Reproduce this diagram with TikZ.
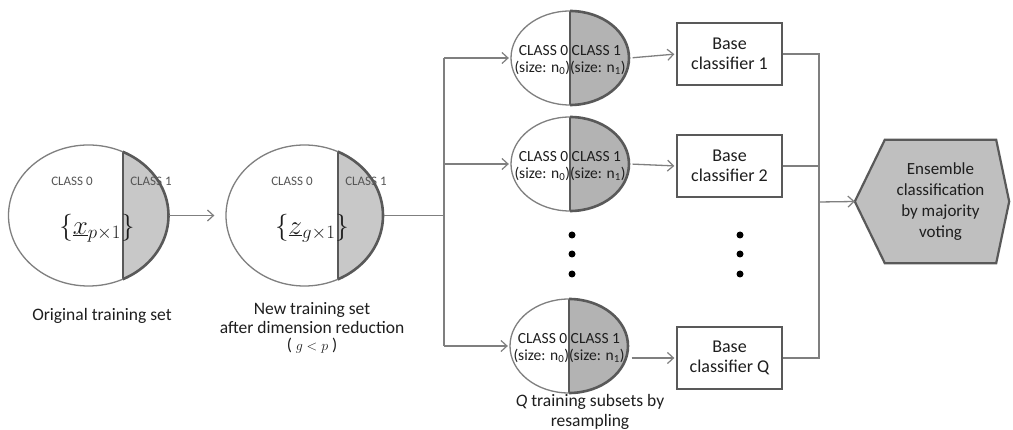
\RequirePackage{fix-cm}
\documentclass[tikz,border=0pt]{standalone}
\usepackage{fontspec}
\setmainfont{Carlito}
\usetikzlibrary{arrows.meta,backgrounds,shapes.geometric}
\definecolor{lgray}{HTML}{7F7F7F}
\definecolor{dgray}{HTML}{595959}
\definecolor{fillA}{HTML}{C8C8C8}
\definecolor{fillB}{HTML}{B3B3B3}
\definecolor{hexfill}{HTML}{BFBFBF}
\definecolor{txt}{HTML}{1E1E1E}
\definecolor{ctxt}{HTML}{555555}
\begin{document}
\begin{tikzpicture}[x=1pt,y=-1pt,
  conn/.style={draw=lgray, line width=1.3pt},
  arr/.style={conn, -{Straight Barb[length=6pt,width=11pt,line width=1.2pt]}},
  bigell/.style={ellipse, draw=lgray, line width=1.3pt, fill=white, inner sep=0pt},
  smallell/.style={ellipse, draw=lgray, line width=1.3pt, fill=white, inner sep=0pt,
     minimum width=118pt, minimum height=94pt},
  thickb/.style={draw=dgray, line width=2.6pt},
  clstxt/.style={text=ctxt, font=\fontsize{13}{15}\selectfont, inner sep=0pt},
  subtxt/.style={text=txt, font=\fontsize{15.5}{16.7}\selectfont, align=center, inner sep=0pt},
  boxnode/.style={draw=dgray, line width=1.3pt, fill=white, minimum width=105pt, minimum height=62pt,
     align=center, text=txt, font=\fontsize{18}{20}\selectfont, inner sep=0pt},
  lbl/.style={text=txt, font=\fontsize{17.5}{19.5}\selectfont, align=center, inner sep=0pt},
  mathtxt/.style={text=txt, font=\fontsize{27}{31}\selectfont, inner sep=0pt},
  dot/.style={circle, fill=black, minimum size=7pt, inner sep=0pt},
  hexnode/.style={minimum width=111pt, minimum height=123pt, align=center, text=txt,
     font=\fontsize{17}{21}\selectfont, inner sep=0pt}
]
\begin{pgfonlayer}{background}
\fill[white] (0,0) rectangle (1013,430);
\end{pgfonlayer}
\useasboundingbox (0,0) rectangle (1013,430);

% ---- big ellipses
\node[bigell, minimum width=160pt, minimum height=141pt,
  path picture={
    \fill[fillA] ([xshift=34.5pt]path picture bounding box.north) rectangle (path picture bounding box.south east);
    \draw[thickb] ([xshift=34.5pt]path picture bounding box.north) -- ([xshift=34.5pt]path picture bounding box.south);
  }] (E1) at (88.5,215.5) {};
\begin{scope}
  \clip ([xshift=34.5pt,yshift=5pt]E1.north) rectangle ([xshift=90pt,yshift=-5pt]E1.south);
  \draw[thickb] (E1.center) ellipse [x radius=80, y radius=70.5];
\end{scope}

\node[bigell, minimum width=157pt, minimum height=141pt,
  path picture={
    \fill[fillA] ([xshift=33.5pt]path picture bounding box.north) rectangle (path picture bounding box.south east);
    \draw[thickb] ([xshift=33.5pt]path picture bounding box.north) -- ([xshift=33.5pt]path picture bounding box.south);
  }] (E2) at (304.5,215.5) {};
\begin{scope}
  \clip ([xshift=33.5pt,yshift=5pt]E2.north) rectangle ([xshift=90pt,yshift=-5pt]E2.south);
  \draw[thickb] (E2.center) ellipse [x radius=78.5, y radius=70.5];
\end{scope}

\node[clstxt] (E1a) at (72,181) {CLASS 0};
\node[clstxt] (E1b) at (151,181) {CLASS 1};
\node[mathtxt] (E1m) at (97,228) {$\{\underline{x}_{p\times 1}\}$};
\node[clstxt] (E2a) at (292,181) {CLASS 0};
\node[clstxt] (E2b) at (366,181) {CLASS 1};
\node[mathtxt] (E2m) at (312,228) {$\{\underline{z}_{g\times 1}\}$};

\node[lbl] (L1) at (102,316) {Original training set};
\node[lbl] (L2) at (312,318) {New training set\\after dimension reduction};
\node[text=txt, font=\fontsize{17}{19}\selectfont, inner sep=0pt] (L3) at (312,346)
  {( {\fontsize{14}{16}\selectfont$g<p$} )};

% ---- small ellipses
\foreach \n/\x/\y in {S1/570/58, S2/570/164, SQ/569/346}{
  \node[smallell,
    path picture={
      \fill[fillB] (path picture bounding box.north) rectangle (path picture bounding box.south east);
      \draw[thickb] (path picture bounding box.north) -- (path picture bounding box.south);
    }] (\n) at (\x,\y) {};
  \begin{scope}
    \clip ([yshift=5pt]\n.north) rectangle ([xshift=70pt,yshift=-5pt]\n.south);
    \draw[thickb] (\n.center) ellipse [x radius=59, y radius=47];
  \end{scope}
  \node[subtxt] (\n t) at ([yshift=-2pt]\n.center) {CLASS 0 CLASS 1\\(size: n\textsubscript{0})(size: n\textsubscript{1})};
}

% ---- boxes
\node[boxnode] (C1) at (729.5,54) {Base\\classifier 1};
\node[boxnode] (C2) at (729.5,166) {Base\\classifier 2};
\node[boxnode] (CQ) at (729.5,358) {Base\\classifier Q};

% ---- dots
\foreach \i/\y in {1/235, 2/254, 3/274}{
  \node[dot] (dl\i) at (572,\y) {};
  \node[dot] (dr\i) at (740,\y) {};
}

% ---- hexagon
\node[hexnode] (H) at (940.5,201.5) {Ensemble\\classification\\by majority\\voting};
\begin{pgfonlayer}{background}
  \draw[fill=hexfill, draw=dgray, line width=2.2pt, line join=miter]
    (H.north west) -- (H.north east) -- ([xshift=13pt]H.east) -- (H.south east)
    -- (H.south west) -- ([xshift=-30pt]H.west) -- cycle;
\end{pgfonlayer}

\node[lbl] (QL) at (590,412) {\textit{Q} training subsets by\\resampling};

% ---- connectors
\coordinate (B) at (444,215.5);
\coordinate (J) at (819,202);
\draw[arr, shorten >=11pt] (E1.east) -- (E2.west);
\draw[conn] (E2.east) -- (B);
\draw[conn] (S1.west -| B) -- (SQ.west -| B);
\foreach \n in {S1,S2,SQ}{
  \draw[arr, shorten >=1.5pt] (\n.west -| B) -- (\n.west);
}
\draw[arr, shorten <=3pt, shorten >=2pt] (S1.east) -- (C1.west);
\draw[arr, shorten <=3pt, shorten >=2pt] (S2.east) -- (C2.west);
\draw[arr, shorten <=3pt, shorten >=2pt] (SQ.east |- CQ.west) -- (CQ.west);
\draw[conn] (C1.east) -- (C1.east -| J) -- (CQ.east -| J) -- (CQ.east);
\draw[conn] (C2.east) -- (C2.east -| J);
\draw[arr] (J) -- ([xshift=-30pt]H.west);
\end{tikzpicture}
\end{document}
